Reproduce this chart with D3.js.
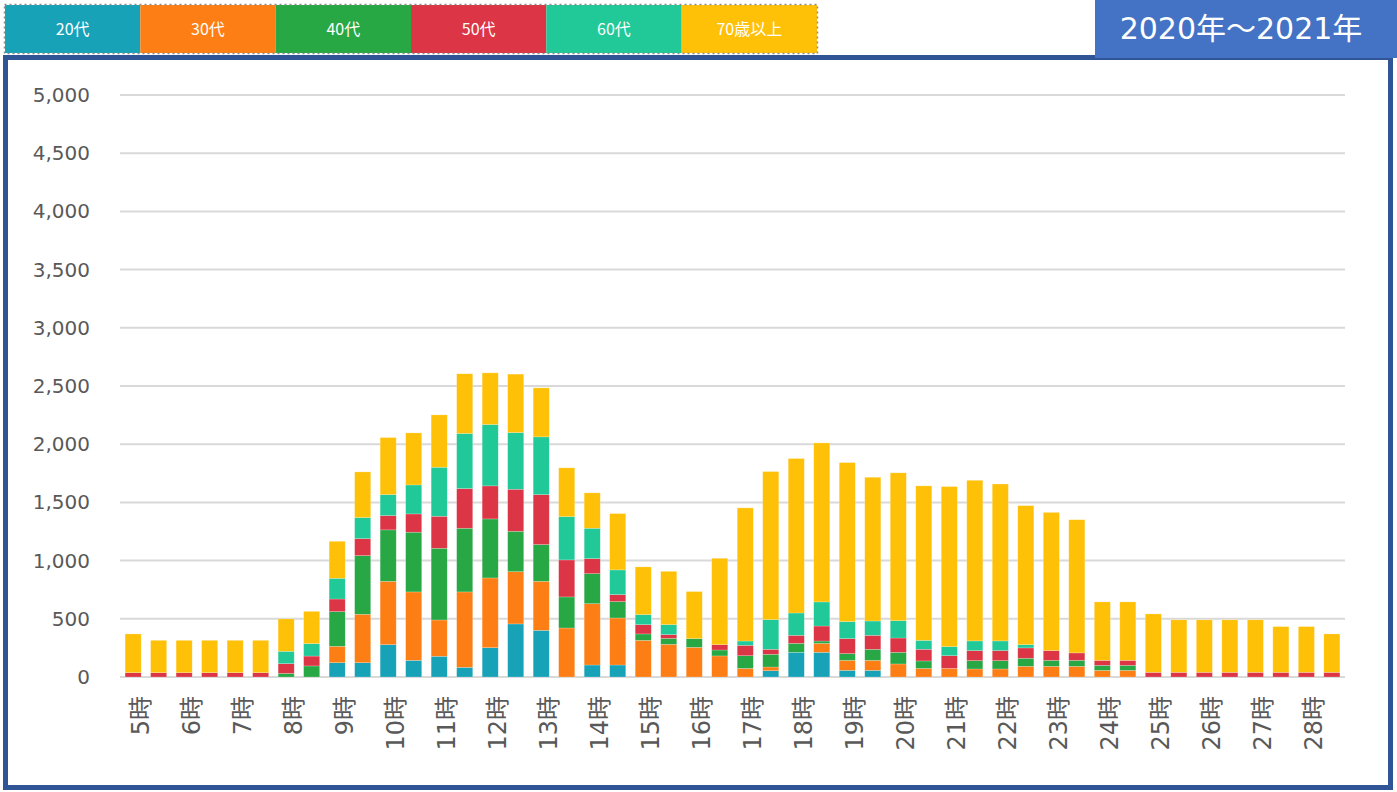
<!DOCTYPE html>
<html>
<head>
<meta charset="utf-8">
<script src="https://cdn.jsdelivr.net/npm/d3@7"></script>
<style>
  body { margin: 0; background: #fff; }
  text { font-family: "DejaVu Sans", "Noto Sans CJK JP", sans-serif; }
</style>
</head>
<body>
<svg id="chart"></svg>
<script>
var w = 1397;
var h = 792;

// half-hour slots, 5:00 .. 28:30
var slots = d3.range(48).map(function(i){ return (5 + Math.floor(i/2)) + ":" + (i % 2 ? "30" : "00"); });
var hourLabels = d3.range(5, 29).map(function(d){ return d + "時"; });
var groups = ["20代", "30代", "40代", "50代", "60代", "70歳以上"];
var colors = ["#17A2B8", "#FD7E14", "#28A745", "#DC3545", "#20C997", "#FFC107"];
var yTicks = [0, 500, 1000, 1500, 2000, 2500, 3000, 3500, 4000, 4500, 5000];

var age20 = [0,0,0,0,0,0, 0,0, 123,123, 278,143, 178,83, 252,456, 401,0, 103,103, 0,0, 0,0,
             0,54, 212,212, 57,57, 0,0, 0,0, 0,0, 0,0, 0,0, 0,0, 0,0, 0,0, 0,0];
var age30 = [0,0,0,0,0,0, 0,0, 141,416, 544,588, 312,648, 599,449, 421,421, 527,404, 315,281, 255,181,
             74,32, 0,77, 86,86, 112,74, 74,69, 69,92, 92,92, 57,57, 0,0, 0,0, 0,0, 0,0];
var age40 = [0,0,0,0,0,0, 31,95, 298,504, 442,513, 616,547, 507,347, 316,267, 258,141, 55,51, 75,51,
             109,109, 77,20, 58,95, 100,64, 0,72, 72,69, 51,51, 43,43, 0,0, 0,0, 0,0, 0,0];
var age50 = [37,37,37,37,37,37, 84,85, 108,146, 123,157, 275,341, 284,361, 429,318, 129,60, 80,32, 0,46,
             89,43, 69,129, 129,120, 123,100, 109,86, 86,89, 84,64, 43,43, 40,40, 40,40, 40,40, 40,40];
var age60 = [0,0,0,0,0,0, 106,107, 178,181, 180,249, 421,473, 527,487, 496,372, 261,212, 86,86, 0,0,
             37,255, 192,207, 146,123, 149,77, 78,83, 83,28, 0,0, 0,0, 0,0, 0,0, 0,0, 0,0];
var age70 = [333,278,278,278,278,278, 278,277, 318,392, 490,447, 450,513, 444,502, 421,419, 304,484, 410,458, 404,742,
             1144,1272, 1327,1366, 1366,1235, 1270,1327, 1375,1380, 1348,1194, 1187,1144, 502,502, 502,451, 451,451, 451,393, 393,330];

var series = [age20, age30, age40, age50, age60, age70];
var rows = slots.map(function(s, i){
    var r = { slot: s };
    groups.forEach(function(g, k){ r[g] = series[k][i]; });
    return r;
});

var svg = d3.select("#chart").attr("width", w).attr("height", h);

// frame
svg.append("rect")
    .attr("x", 5.5).attr("y", 57.5)
    .attr("width", 1385).attr("height", 730)
    .attr("fill", "#fff")
    .attr("stroke", "#2F5597")
    .attr("stroke-width", 5);

// legend
var legW = 812 / 6;
var leg = svg.append("g");
groups.forEach(function(g, i){
    leg.append("rect")
        .attr("x", 5 + i*legW).attr("y", 5)
        .attr("width", legW).attr("height", 48)
        .attr("fill", colors[i]);
    leg.append("text")
        .attr("x", 5 + i*legW + legW/2)
        .attr("y", 35)
        .attr("text-anchor", "middle")
        .attr("fill", "#fff")
        .style("font-size", "16px")
        .style("font-family", "'Noto Sans CJK JP', sans-serif")
        .text(g);
});
leg.append("rect")
    .attr("x", 4.5).attr("y", 4.5)
    .attr("width", 813).attr("height", 49)
    .attr("fill", "none")
    .attr("stroke", "#8c8c8c")
    .attr("stroke-width", 1.5)
    .attr("stroke-dasharray", "2,3");

// title box
svg.append("rect")
    .attr("x", 1095).attr("y", 0)
    .attr("width", 302).attr("height", 58)
    .attr("fill", "#4472C4");
svg.append("text")
    .attr("x", 1241).attr("y", 39)
    .attr("text-anchor", "middle")
    .attr("fill", "#fff")
    .style("font-size", "30px")
    .text("2020年～2021年");

// scales
var x = d3.scaleBand().domain(slots).range([120, 1345]).paddingInner(0.37).paddingOuter(0.2);
var y = d3.scaleLinear().domain([0, 5000]).range([677, 95]);

// grid
svg.append("g").selectAll("line")
    .data(yTicks)
    .enter().append("line")
    .attr("x1", 120).attr("x2", 1345)
    .attr("y1", function(d){ return y(d); })
    .attr("y2", function(d){ return y(d); })
    .attr("stroke", "#d9d9d9")
    .attr("stroke-width", 2);

// y axis labels
var yAxis = svg.append("g")
    .attr("transform", "translate(90,0)")
    .call(d3.axisLeft(y).tickValues(yTicks).tickFormat(d3.format(",")).tickSize(0).tickPadding(0));
yAxis.select(".domain").remove();
yAxis.selectAll("text")
    .attr("fill", "#595959")
    .style("font-size", "20px")
    .style("font-family", "'DejaVu Sans', sans-serif");

// stacked bars
var stack = d3.stack().keys(groups)(rows);
svg.append("g").selectAll("g")
    .data(stack)
    .enter().append("g")
    .attr("fill", function(d, i){ return colors[i]; })
    .selectAll("rect")
    .data(function(d){ return d; })
    .enter().append("rect")
    .attr("x", function(d){ return x(d.data.slot); })
    .attr("width", x.bandwidth())
    .attr("y", function(d){ return y(d[1]); })
    .attr("height", function(d){ return y(d[0]) - y(d[1]); })
    .attr("stroke", "#fff")
    .attr("stroke-opacity", 0.35)
    .attr("stroke-width", 0.6);

// x labels (every hour)
var xl = svg.append("g");
hourLabels.forEach(function(lbl, i){
    var cx = x(slots[i*2]) + x.bandwidth()/2;
    xl.append("text")
        .attr("transform", "translate(" + (cx + 16) + ",696) rotate(-90)")
        .attr("text-anchor", "end")
        .attr("fill", "#595959")
        .style("font-size", "24px")
        .text(lbl);
});
</script>
</body>
</html>
